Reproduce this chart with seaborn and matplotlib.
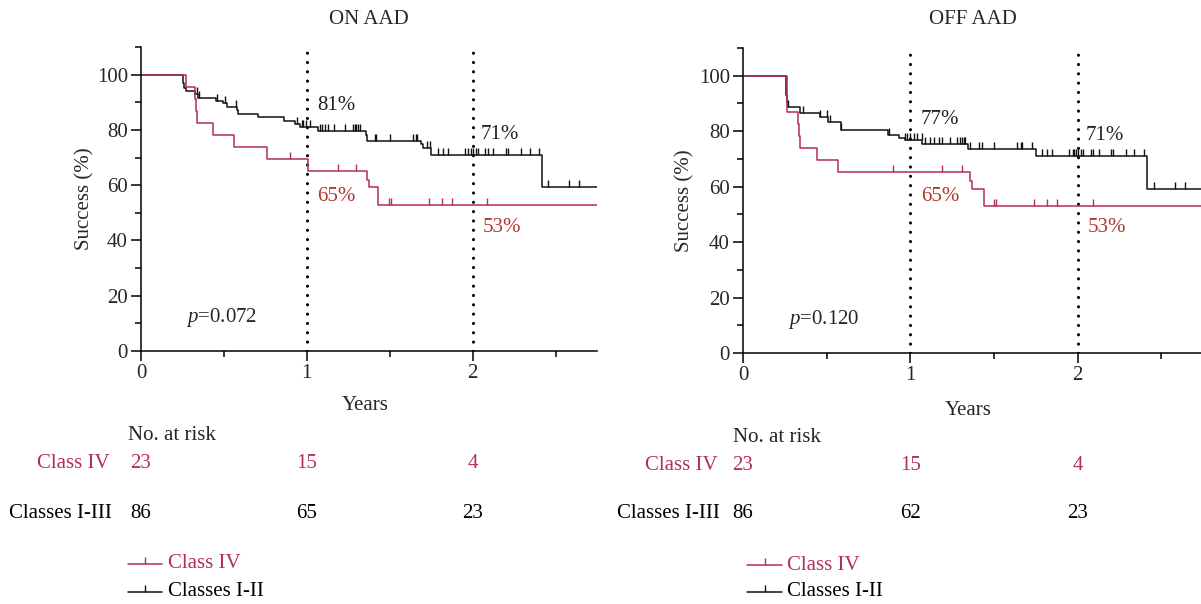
import numpy as np
import pandas as pd
import matplotlib
matplotlib.use("Agg")
import matplotlib.pyplot as plt
import matplotlib.transforms as mtransforms
from matplotlib.lines import Line2D
from matplotlib.ticker import FixedLocator
import seaborn as sns

sns.set_style("ticks")
plt.rcParams["font.family"] = ["Liberation Serif", "DejaVu Serif"]
plt.rcParams["mathtext.fontset"] = "custom"
plt.rcParams["mathtext.rm"] = "Liberation Serif"
plt.rcParams["mathtext.it"] = "Liberation Serif:italic"

# ---------------- data ----------------
panel_titles = ["ON AAD", "OFF AAD"]
p_values = ["0.072", "0.120"]
group_labels = ["Class IV", "Classes I-III"]
legend_labels = ["Class IV", "Classes I-II"]
risk_times = [0, 1, 2]
risk_class4 = [[23, 15, 4], [23, 15, 4]]
risk_class13 = [[86, 65, 23], [86, 62, 23]]

# ON AAD
on_black_t = [0, 0.255, 0.261, 0.271, 0.325, 0.345, 0.452, 0.496, 0.516, 0.576, 0.582,
              0.707, 0.861, 0.928, 0.958, 1.068, 1.355, 1.365, 1.691, 1.701, 1.751, 2.420, 2.75]
on_black_s = [100, 97.0, 95.2, 93.9, 93.0, 91.5, 90.3, 89.7, 88.2, 87.3, 85.8,
              84.5, 83.3, 82.1, 80.9, 79.7, 78.3, 76.1, 74.9, 73.4, 71.0, 59.2, 59.2]
on_black_c = [0.335, 0.349, 0.46, 0.506, 0.572, 0.938, 0.968, 0.978, 0.994, 1.018, 1.078,
              1.094, 1.108, 1.129, 1.163, 1.229, 1.279, 1.289, 1.299, 1.309, 1.319, 1.41,
              1.42, 1.50, 1.641, 1.657, 1.665, 1.725, 1.741, 1.791, 1.821, 1.851, 1.952,
              1.972, 1.992, 2.002, 2.018, 2.032, 2.072, 2.092, 2.122, 2.199, 2.213, 2.293,
              2.343, 2.40, 2.454, 2.584, 2.641]
on_red_t = [0, 0.271, 0.325, 0.330, 0.335, 0.432, 0.562, 0.757, 1.008, 1.360, 1.375, 1.430, 2.75]
on_red_s = [100, 95.7, 91.3, 87.0, 82.6, 78.3, 73.9, 69.6, 65.0, 62.0, 59.3, 52.9, 52.9]
on_red_c = [0.897, 1.189, 1.299, 1.496, 1.510, 1.737, 1.815, 1.876, 2.088]

# OFF AAD
off_black_t = [0, 0.258, 0.261, 0.267, 0.340, 0.460, 0.509, 0.585, 0.868, 0.935, 0.970,
               1.071, 1.345, 1.753, 2.416, 2.75]
off_black_s = [100, 93.0, 90.5, 88.6, 86.5, 85.0, 83.2, 80.4, 78.6, 77.7, 76.8,
               75.4, 73.6, 71.1, 59.3, 59.3]
off_black_c = [0.27, 0.36, 0.46, 0.50, 0.52, 0.585, 0.87, 0.97, 0.98, 1.00, 1.02, 1.04,
               1.07, 1.09, 1.12, 1.14, 1.17, 1.19, 1.24, 1.28, 1.30, 1.31, 1.32, 1.33,
               1.36, 1.41, 1.43, 1.50, 1.64, 1.66, 1.67, 1.73, 1.79, 1.82, 1.85, 1.95,
               1.97, 1.98, 1.99, 2.00, 2.02, 2.03, 2.08, 2.09, 2.13, 2.20, 2.21, 2.29,
               2.34, 2.40, 2.46, 2.58, 2.64]
off_red_t = [0, 0.261, 0.330, 0.335, 0.340, 0.440, 0.565, 1.360, 1.372, 1.439, 2.75]
off_red_s = [100, 87.0, 82.6, 78.3, 73.9, 69.6, 65.2, 62.0, 59.3, 52.9, 52.9]
off_red_c = [0.897, 1.19, 1.31, 1.50, 1.51, 1.74, 1.82, 1.88, 2.09]

# milestone labels: (x, y, text, is_red)
on_labels = [(1.06, 88.8, "81%", False), (2.05, 78.3, "71%", False),
             (1.06, 55.9, "65%", True), (2.06, 44.8, "53%", True)]
off_labels = [(1.063, 84.1, "77%", False), (2.05, 78.3, "71%", False),
              (1.063, 56.4, "65%", True), (2.06, 45.4, "53%", True)]

RED = "#B22E5B"
RED_TXT = "#B0372F"
BLACK = "#111111"
FS = 15

W, H = 1201, 604
fig = plt.figure(figsize=(W / 100, H / 100), dpi=100)


def fx(px):
    return px / W


def fy(py):
    return 1 - py / H


panels = [
    dict(rect=[fx(141), fy(351), fx(597) - fx(141), fy(47) - fy(351)],
         black=(on_black_t, on_black_s, on_black_c), red=(on_red_t, on_red_s, on_red_c),
         labels=on_labels, xl=(0.491, -0.178), yl=(-0.123, 0.5),
         nar=(128, 436), lab4=(110, 464), lab13=(112, 513), rows=(464, 513),
         leg=(128, 162, 168, 564, 592)),
    dict(rect=[fx(743), fy(353), fx(1203) - fx(743), fy(48) - fy(353)],
         black=(off_black_t, off_black_s, off_black_c), red=(off_red_t, off_red_s, off_red_c),
         labels=off_labels, xl=(0.489, -0.187), yl=(-0.126, 0.5),
         nar=(733, 438), lab4=(718, 465), lab13=(720, 513), rows=(465, 513),
         leg=(747, 782, 787, 565, 592)),
]

for i, P in enumerate(panels):
    ax = fig.add_axes(P["rect"])
    for (t, s, c), col in [(P["black"], BLACK), (P["red"], RED)]:
        df = pd.DataFrame({"t": t, "s": s})
        sns.lineplot(data=df, x="t", y="s", ax=ax, color=col, lw=1.1,
                     drawstyle="steps-post", estimator=None, sort=False, legend=False)
        t_arr = np.asarray(t)
        s_arr = np.asarray(s)
        idx = np.searchsorted(t_arr, np.asarray(c), side="right") - 1
        ax.plot(c, s_arr[idx], ls="none", marker=2, ms=5, mew=1.0, color=col)

    for xv in [1, 2]:
        ax.axvline(xv, color="black", lw=2.2, ls=(0, (0.05, 3.0)),
                   dash_capstyle="round", zorder=1)

    for (x, y, txt, red) in P["labels"]:
        ax.text(x, y, txt, ha="left", va="center", fontsize=FS,
                color=RED_TXT if red else "#222222")

    ax.text(0.27, 12.0, "$p$=" + p_values[i], ha="left", va="center", fontsize=FS)

    ax.set_xlim(0, 2.75)
    ax.set_ylim(0, 110)
    ax.xaxis.set_major_locator(FixedLocator([0, 1, 2]))
    ax.xaxis.set_minor_locator(FixedLocator([0.5, 1.5, 2.5]))
    ax.yaxis.set_major_locator(FixedLocator([0, 20, 40, 60, 80, 100]))
    ax.yaxis.set_minor_locator(FixedLocator([10, 30, 50, 70, 90, 110]))
    ax.tick_params(which="major", length=7, width=1.1, labelsize=FS, pad=2.5,
                   direction="out", color="black")
    ax.tick_params(which="minor", length=4, width=1.1, direction="out", color="black")
    for sp in ["left", "bottom"]:
        ax.spines[sp].set_linewidth(1.1)
        ax.spines[sp].set_color("black")
    sns.despine(ax=ax)
    ax.set_xlabel("Years", fontsize=FS, va="center")
    ax.set_ylabel("Success (%)", fontsize=FS, va="center")
    ax.xaxis.set_label_coords(*P["xl"])
    ax.yaxis.set_label_coords(*P["yl"])
    ax.text(0.5, (fy(19) - P["rect"][1]) / P["rect"][3], panel_titles[i],
            transform=ax.transAxes, ha="center", va="center", fontsize=FS)

    # risk table
    fig.text(fx(P["nar"][0]), fy(P["nar"][1]), "No. at risk", ha="left", va="center", fontsize=FS)
    fig.text(fx(P["lab4"][0]), fy(P["lab4"][1]), group_labels[0], ha="right", va="center",
             fontsize=FS, color=RED)
    fig.text(fx(P["lab13"][0]), fy(P["lab13"][1]), group_labels[1], ha="right", va="center",
             fontsize=FS, color="black")
    trans = mtransforms.blended_transform_factory(ax.transData, fig.transFigure)
    for xv, n4, n13 in zip(risk_times, risk_class4[i], risk_class13[i]):
        ax.text(xv, fy(P["rows"][0]), str(n4), transform=trans, ha="center", va="center",
                fontsize=FS, color=RED, clip_on=False)
        ax.text(xv, fy(P["rows"][1]), str(n13), transform=trans, ha="center", va="center",
                fontsize=FS, color="black", clip_on=False)

    # legend
    x0, x1, xt, y4, y13 = P["leg"]
    for yy, col, lab in [(y4, RED, legend_labels[0]), (y13, BLACK, legend_labels[1])]:
        fig.add_artist(Line2D([fx(x0), fx(x1)], [fy(yy), fy(yy)], color=col, lw=1.1,
                              transform=fig.transFigure))
        fig.add_artist(Line2D([fx((x0 + x1) / 2)], [fy(yy)], color=col, ls="none",
                              marker=2, ms=5, mew=1.0, transform=fig.transFigure))
        fig.text(fx(xt), fy(yy), lab, ha="left", va="center", fontsize=FS,
                 color=RED if col == RED else "black")

fig.savefig("out.png", dpi=100)
